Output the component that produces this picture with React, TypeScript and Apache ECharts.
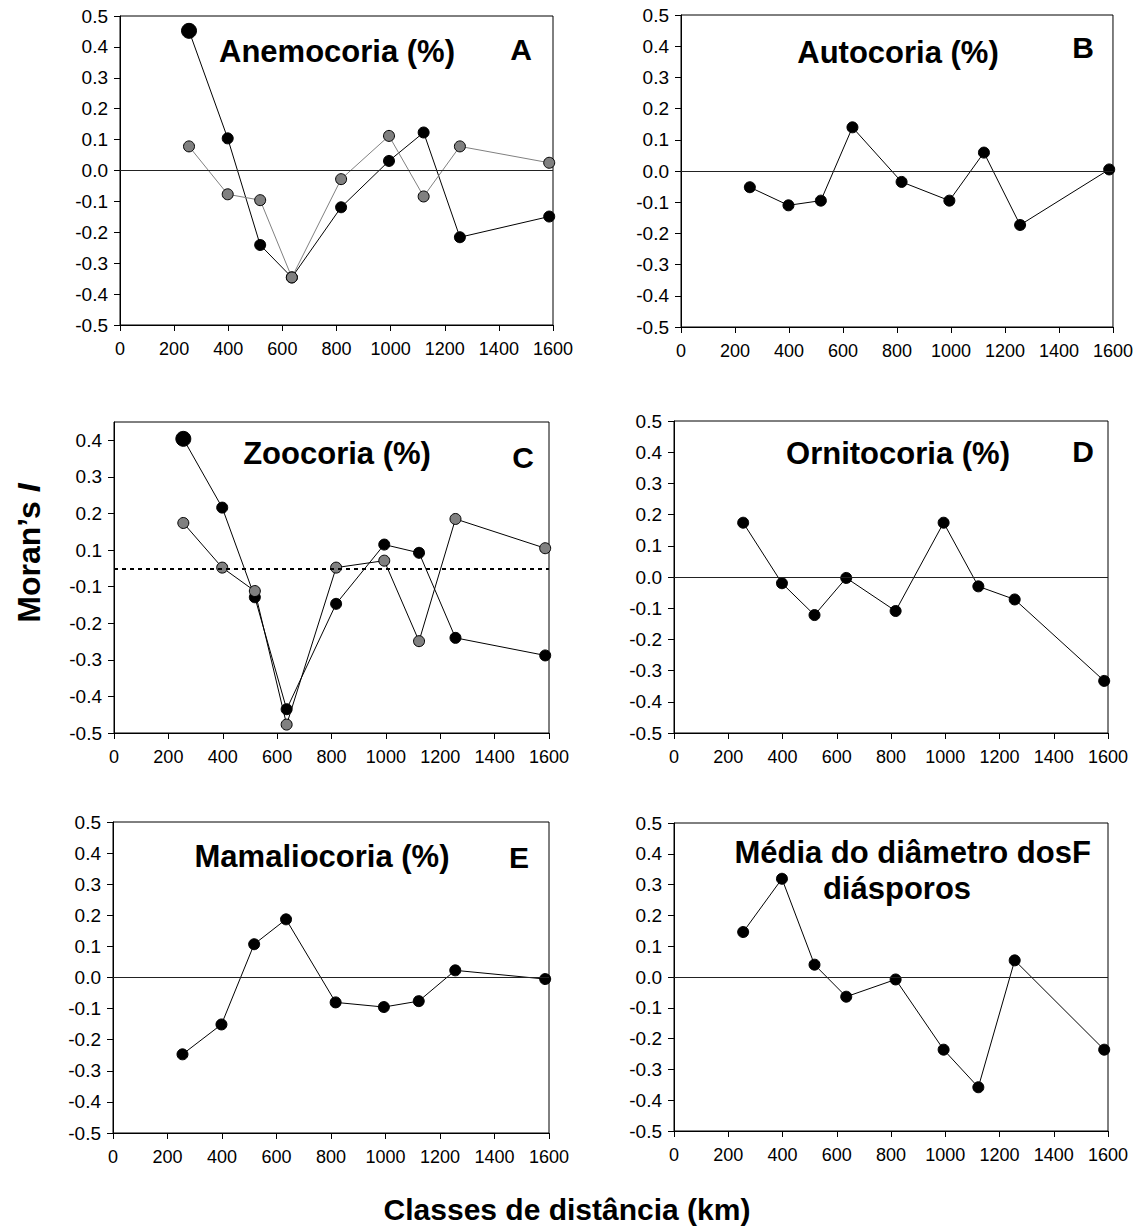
import React, { useEffect, useRef } from "react";
import * as echarts from "echarts";

// ---- data ----
const distances = [255, 398, 518, 635, 817, 994, 1122, 1256, 1586];
const xTickValues = [0, 200, 400, 600, 800, 1000, 1200, 1400, 1600];
const yTickLabels = ["-0.5", "-0.4", "-0.3", "-0.2", "-0.1", "0.0", "0.1", "0.2", "0.3", "0.4", "0.5"];
const cYTickLabels = ["-0.5", "-0.4", "-0.3", "-0.2", "-0.1", "0.1", "0.2", "0.3", "0.4"];

const anemoBlack = [0.452, 0.104, -0.241, -0.346, -0.119, 0.031, 0.123, -0.216, -0.149];
const anemoGray = [0.078, -0.077, -0.096, -0.346, -0.028, 0.112, -0.084, 0.078, 0.025];
const autocoria = [-0.052, -0.11, -0.095, 0.14, -0.035, -0.095, 0.059, -0.173, 0.005];
const zooBlack = [0.404, 0.216, -0.129, -0.435, -0.147, 0.115, 0.085, -0.24, -0.288];
const zooGray = [0.174, 0.004, -0.112, -0.477, 0.004, 0.042, -0.249, 0.185, 0.105];
const ornitocoria = [0.174, -0.02, -0.122, -0.003, -0.109, 0.174, -0.03, -0.072, -0.333];
const mamaliocoria = [-0.247, -0.151, 0.107, 0.187, -0.08, -0.095, -0.076, 0.023, -0.005];
const diametro = [0.146, 0.319, 0.04, -0.064, -0.008, -0.236, -0.358, 0.054, -0.236];

const titles = ["Anemocoria (%)", "Autocoria (%)", "Zoocoria (%)", "Ornitocoria (%)", "Mamaliocoria (%)"];
const letters = ["A", "B", "C", "D", "E", "F"];

const FONT = '"Liberation Sans", Arial, Helvetica, sans-serif';

// panel C's axis is labelled without 0.0: map a labelled value onto the drawn scale
const cPos = (L: number) => (L <= -0.1 ? L : L >= 0.1 ? L - 0.1 : -0.05 + L / 2);

// layout of the six plot frames
const grids = [
  { left: 120, top: 16, width: 433, height: 309 },
  { left: 681, top: 15, width: 433, height: 312 },
  { left: 114, top: 422, width: 435, height: 311 },
  { left: 674, top: 421, width: 434, height: 312 },
  { left: 113, top: 822, width: 436, height: 311 },
  { left: 674, top: 823, width: 434, height: 308 },
];

function App() {
  const ref = useRef<HTMLDivElement>(null);
  useEffect(() => {
    if (!ref.current) return;
    const chart = echarts.init(ref.current, null, { renderer: "svg" });

    const gridOpts = grids.map((g) => ({
      ...g,
      show: true,
      borderColor: "#000",
      borderWidth: 1,
      backgroundColor: "transparent",
    }));

    const xAxes = grids.map((_, i) => ({
      type: "value",
      gridIndex: i,
      min: 0,
      max: 1600,
      interval: 200,
      axisLine: { show: true, onZero: false, lineStyle: { color: "#000", width: 1 } },
      axisTick: { show: true, inside: false, length: 6, lineStyle: { color: "#000" } },
      axisLabel: {
        margin: 15,
        fontSize: 18,
        color: "#000",
        fontFamily: FONT,
        formatter: (v: number) => String(xTickValues.find((t) => Math.abs(t - v) < 1e-6) ?? Math.round(v)),
      },
      splitLine: { show: false },
    }));

    const yAxes = grids.map((_, i) => {
      const base: any = {
        type: "value",
        gridIndex: i,
        axisLine: { show: true, onZero: false, lineStyle: { color: "#000", width: 1 } },
        axisTick: { show: true, inside: false, length: 6, lineStyle: { color: "#000" } },
        splitLine: { show: false },
      };
      if (i === 2) {
        const ticks = cYTickLabels.map((_, k) => -0.5 + k * 0.1);
        return {
          ...base,
          min: -0.5,
          max: 0.35,
          axisTick: { ...base.axisTick, customValues: ticks },
          axisLabel: {
            margin: 12,
            fontSize: 19,
            color: "#000",
            fontFamily: FONT,
            customValues: ticks,
            formatter: (v: number) => cYTickLabels[Math.round((v + 0.5) * 10)] ?? "",
          },
        };
      }
      return {
        ...base,
        min: -0.5,
        max: 0.5,
        interval: 0.1,
        axisLabel: {
          margin: 12,
          fontSize: 19,
          color: "#000",
          fontFamily: FONT,
          formatter: (v: number) => yTickLabels[Math.round((v + 0.5) * 10)] ?? "",
        },
      };
    });

    const refLine = (y: number, dotted: boolean) => ({
      silent: true,
      symbol: "none",
      label: { show: false },
      lineStyle: dotted
        ? { color: "#000", width: 2, type: [4, 4] }
        : { color: "#222", width: 1, type: "solid" },
      data: [{ yAxis: y }],
    });

    const mk = (
      idx: number,
      values: number[],
      fill: string,
      lineColor: string,
      opts: { big?: boolean; map?: (v: number) => number; ref?: any; z?: number } = {}
    ) => ({
      type: "line",
      xAxisIndex: idx,
      yAxisIndex: idx,
      symbol: "circle",
      symbolSize: 11,
      z: opts.z ?? 2,
      itemStyle: { color: fill, borderColor: "#000", borderWidth: 1 },
      lineStyle: { color: lineColor, width: 1 },
      emphasis: { disabled: true },
      data: distances.map((d, k) => {
        const v = opts.map ? opts.map(values[k]) : values[k];
        if (opts.big && k === 0) return { value: [d, v], symbolSize: 15 };
        return [d, v];
      }),
      markLine: opts.ref,
    });

    const series = [
      mk(0, anemoBlack, "#000", "#000", { big: true, ref: refLine(0, false), z: 2 }),
      mk(0, anemoGray, "#808080", "#808080", { z: 3 }),
      mk(1, autocoria, "#000", "#000", { ref: refLine(0, false) }),
      mk(2, zooBlack, "#000", "#000", { big: true, map: cPos, ref: refLine(cPos(0), true), z: 2 }),
      mk(2, zooGray, "#808080", "#000", { map: cPos, z: 3 }),
      mk(3, ornitocoria, "#000", "#000", { ref: refLine(0, false) }),
      mk(4, mamaliocoria, "#000", "#000", { ref: refLine(0, false) }),
      mk(5, diametro, "#000", "#000", { ref: refLine(0, false) }),
    ];

    const txt = (text: string, x: number, y: number, size: number, align = "center") => ({
      type: "text",
      x,
      y,
      silent: true,
      style: {
        text,
        fill: "#000",
        fontSize: size,
        fontWeight: "bold",
        fontFamily: FONT,
        align,
        verticalAlign: "middle",
      },
    });

    const graphic: any[] = [
      txt(titles[0], 337, 51, 31),
      txt(letters[0], 521, 49, 30),
      txt(titles[1], 898, 52, 31),
      txt(letters[1], 1083, 47, 30),
      txt(titles[2], 337, 453, 31),
      txt(letters[2], 523, 457, 30),
      txt(titles[3], 898, 453, 31),
      txt(letters[3], 1083, 451, 30),
      txt(titles[4], 322, 856, 31),
      txt(letters[4], 519, 857, 30),
      txt("Média do diâmetro dos", 1072, 852, 31, "right"),
      txt(letters[5], 1072, 852, 31, "left"),
      txt("diásporos", 897, 888, 31),
      txt("Classes de distância (km)", 567, 1209, 30),
      {
        type: "text",
        x: 29,
        y: 553,
        rotation: Math.PI / 2,
        silent: true,
        style: {
          text: "{a|Moran’s }{b|I}",
          fill: "#000",
          fontSize: 32,
          fontWeight: "bold",
          fontFamily: FONT,
          align: "center",
          verticalAlign: "middle",
          rich: {
            a: { fontSize: 32, fontWeight: "bold", fontFamily: FONT, fill: "#000" },
            b: { fontSize: 32, fontWeight: "bold", fontStyle: "italic", fontFamily: FONT, fill: "#000" },
          },
        },
      },
    ];

    chart.setOption({
      animation: false,
      backgroundColor: "#fff",
      grid: gridOpts,
      xAxis: xAxes,
      yAxis: yAxes,
      series,
      graphic,
    } as any);

    return () => chart.dispose();
  }, []);

  return (
    <div
      ref={ref}
      style={{ position: "absolute", left: 0, top: 0, width: 1136, height: 1232 }}
    />
  );
}

export default App;
